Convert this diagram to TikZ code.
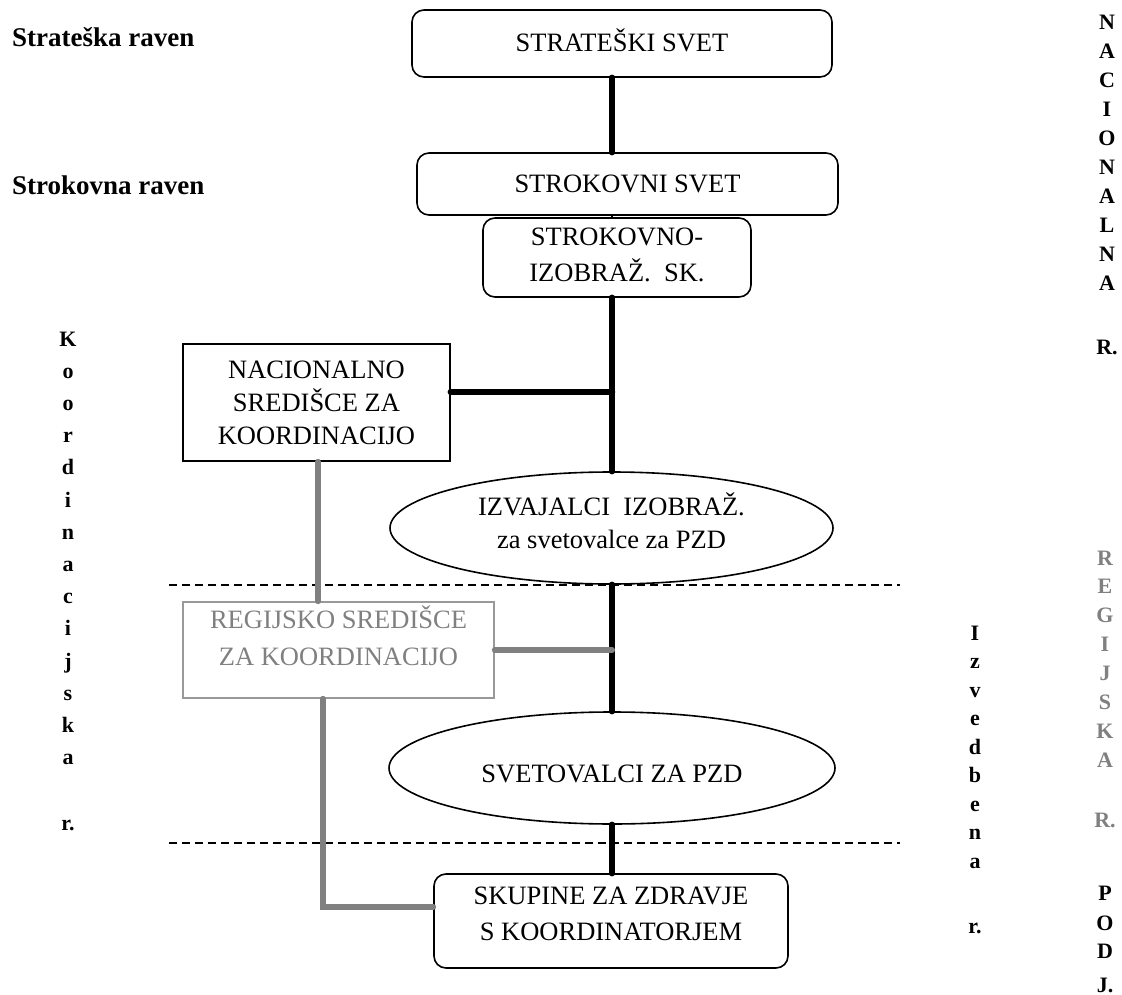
\documentclass[tikz,border=0pt]{standalone}
\usepackage{fontspec}
\setmainfont{Liberation Serif}
\usetikzlibrary{shapes.geometric}
\definecolor{grayline}{HTML}{808080}
\definecolor{graybox}{HTML}{999999}
\tikzset{
  boxtext/.style={font=\fontsize{26.5}{36}\selectfont, align=center, inner sep=0pt},
  rbox/.style={boxtext, draw, line width=1.6pt, rounded corners=12pt},
  sbox/.style={boxtext, draw, line width=1.6pt},
  ebox/.style={boxtext, draw, ellipse, line width=1.6pt},
  blk/.style={line width=6.5pt, line cap=round, black},
  gry/.style={line width=6pt, line cap=round, grayline},
  dashline/.style={line width=1.3pt, dash pattern=on 8pt off 5pt},
  lvl/.style={font=\fontsize{27}{32}\selectfont\bfseries, anchor=base west, inner sep=0pt},
  vlet/.style={font=\fontsize{22}{29}\selectfont\bfseries, anchor=base, inner sep=0pt},
}
\begin{document}
\begin{tikzpicture}[x=1pt,y=-1pt]
\useasboundingbox (0,0) rectangle (1122,995);
% helper coordinates
\coordinate (sp) at (612,0);
\coordinate (j1) at (612,392);
\coordinate (j2) at (612,650);
\coordinate (g1) at (318,0);
\coordinate (g2) at (323,0);
\coordinate (g3) at (0,907);
\coordinate (d1l) at (169,585);
\coordinate (d1r) at (900,585);
\coordinate (d2l) at (169,843);
\coordinate (d2r) at (900,843);

% level labels
\node[lvl] (lab1) at (12,47) {Strateška raven};
\node[lvl] (lab2) at (12,195) {Strokovna raven};

% boxes
\node[rbox, minimum width=420pt, minimum height=67pt] (strat) at (622,43.5) {STRATEŠKI SVET\\[-30pt]\mbox{}};
\node[rbox, minimum width=421pt, minimum height=62pt] (strok) at (627.5,184) {STROKOVNI SVET};
\node[rbox, minimum width=268pt, minimum height=79pt] (strokizo) at (617,257.5) {STROKOVNO-\\IZOBRAŽ.\ \ SK.\\[-31pt]\mbox{}};
\node[sbox, minimum width=267pt, minimum height=117pt, font=\fontsize{26.5}{33}\selectfont] (nac) at (316.5,402.5) {NACIONALNO\\SREDIŠCE ZA\\KOORDINACIJO};
\node[ebox, minimum width=443pt, minimum height=112pt, font=\fontsize{26.5}{33}\selectfont] (izv) at (611.5,528) {IZVAJALCI\ \ IZOBRAŽ.\\za svetovalce za PZD\\[-19pt]\mbox{}};
\node[sbox, draw=graybox, text=grayline, minimum width=311pt, minimum height=96pt, font=\fontsize{26.5}{37}\selectfont] (reg) at (338.5,650) {REGIJSKO SREDIŠCE\\ZA KOORDINACIJO\\[-8pt]\mbox{}};
\node[ebox, minimum width=446pt, minimum height=112pt] (svet) at (612,768) {\mbox{}\\[-6.5pt]SVETOVALCI ZA PZD};
\node[rbox, minimum width=354pt, minimum height=94pt] (skup) at (611,921) {SKUPINE ZA ZDRAVJE\\S KOORDINATORJEM\\[-22pt]\mbox{}};

% dashed separators
\draw[dashline] (d1l) -- (d1r);
\draw[dashline] (d2l) -- (d2r);

% black spine
\draw[blk] (strat.south -| sp) -- (strok.north -| sp);
\draw[line width=1.6pt] (strok.south -| sp) -- (strokizo.north -| sp);
\draw[blk] (strokizo.south -| sp) -- (izv.north -| sp);
\draw[blk] (nac.east |- j1) -- (j1);
\draw[blk] (izv.south -| sp) -- (svet.north -| sp);
\draw[blk] (svet.south -| sp) -- (skup.north -| sp);

% gray coordination lines
\draw[gry] (nac.south -| g1) -- (reg.north -| g1);
\draw[gry] (reg.east |- j2) -- (j2);
\draw[gry] (reg.south -| g2) |- (skup.west |- g3);

% vertical words
\foreach \l [count=\i] in {N,A,C,I,O,N,A,L,N,A}
  \node[vlet] (nacl\i) at (1107,29.5+29*\i-29) {\l};
\node[vlet] (nacr) at (1107,354) {R.};

\foreach \l [count=\i] in {K,o,o,r,d,i,n,a,c,i,j,s,k,a}
  \node[vlet] (kor\i) at (68,346+32.2*\i-32.2) {\l};
\node[vlet] (korr) at (68,830) {r.};

\foreach \l [count=\i] in {I,z,v,e,d,b,e,n,a}
  \node[vlet] (izl\i) at (975,640+28.5*\i-28.5) {\l};
\node[vlet] (izr) at (975,933) {r.};

\foreach \l [count=\i] in {R,E,G,I,J,S,K,A}
  \node[vlet, text=grayline] (regl\i) at (1105,565+28.9*\i-28.9) {\l};
\node[vlet, text=grayline] (regr) at (1105,827) {R.};

\node[vlet] (pod1) at (1105,900) {P};
\node[vlet] (pod2) at (1105,930) {O};
\node[vlet] (pod3) at (1105,958) {D};
\node[vlet] (pod4) at (1105,992) {J.};
\end{tikzpicture}
\end{document}
